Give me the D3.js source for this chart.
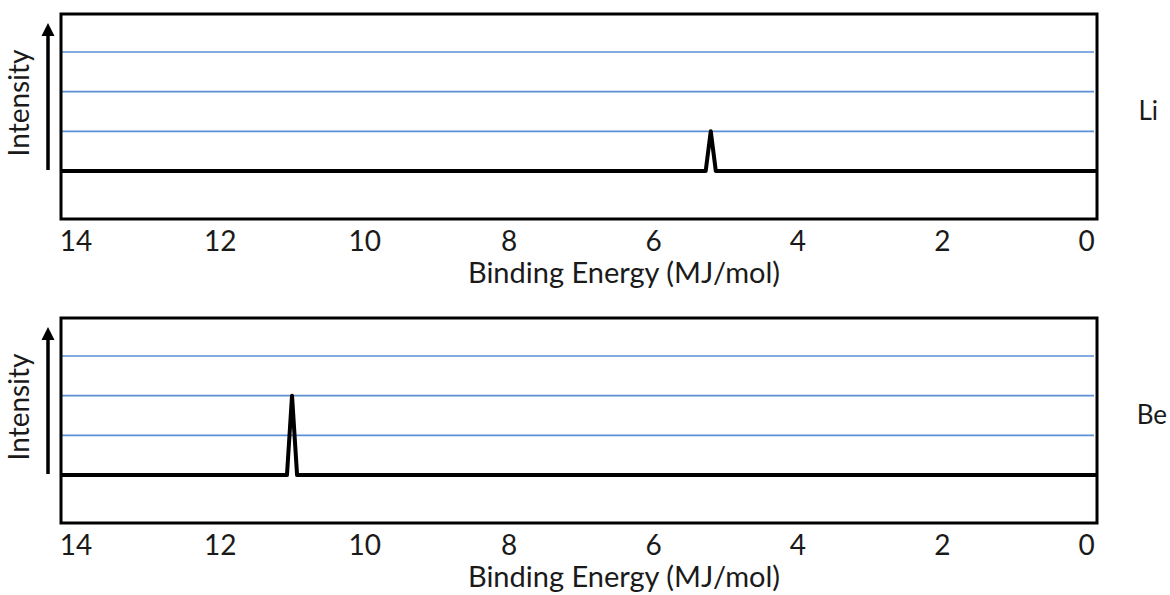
<!DOCTYPE html>
<html>
<head>
<meta charset="utf-8">
<script src="https://cdn.jsdelivr.net/npm/d3@7"></script>
<style>
  body { margin: 0; background: #fff; }
  text { font-family: Lato, "Noto Sans", sans-serif; fill: #1a1a1a; }
</style>
</head>
<body>
<svg id="chart" width="1170" height="595"></svg>
<script>
// ===== DADOS =====
const tickValues = [14, 12, 10, 8, 6, 4, 2, 0];
const gridLevels = [1, 2, 3];
const elementNames = ["Li", "Be"];
const liEnergy = [14.2, 5.27, 5.2, 5.13, -0.15];
const liIntensity = [0, 0, 1, 0, 0];
const beEnergy = [14.2, 11.07, 11.0, 10.93, -0.15];
const beIntensity = [0, 0, 2, 0, 0];

const spectra = [
  { name: elementNames[0], energy: liEnergy, intensity: liIntensity },
  { name: elementNames[1], energy: beEnergy, intensity: beIntensity }
];

// ===== LAYOUT =====
const panelLeft = 61;
const panelWidth = 1036;
const panelHeight = 205;
const panelTops = [14, 318];
const nameRight = [1158, 1167];

const svg = d3.select("#chart");

const x = d3.scaleLinear().domain([14.2, -0.15]).range([0, panelWidth]);
// linha de base 157px abaixo do topo, nível 3 a 38px
const y = d3.scaleLinear().domain([0, 3]).range([157, 38]);

const line = d3
  .line()
  .x((d) => x(d[0]))
  .y((d) => y(d[1]));

spectra.forEach((s, i) => {
  const g = svg
    .append("g")
    .attr("transform", `translate(${panelLeft},${panelTops[i]})`);

  // linhas de grade
  g.selectAll(".grid")
    .data(gridLevels)
    .join("line")
    .attr("x1", 0)
    .attr("x2", panelWidth - 3)
    .attr("y1", (d) => y(d))
    .attr("y2", (d) => y(d))
    .attr("stroke", "#5b8fd6")
    .attr("stroke-width", 1.6);

  // espectro
  const pts = s.energy.map((e, k) => [e, s.intensity[k]]);
  g.append("path")
    .datum(pts)
    .attr("d", line)
    .attr("fill", "none")
    .attr("stroke", "#000")
    .attr("stroke-width", 4)
    .attr("stroke-linejoin", "round");

  // caixa
  g.append("rect")
    .attr("width", panelWidth)
    .attr("height", panelHeight)
    .attr("fill", "none")
    .attr("stroke", "#000")
    .attr("stroke-width", 3);

  // eixo x
  const axis = g
    .append("g")
    .attr("transform", `translate(0,${panelHeight})`)
    .call(d3.axisBottom(x).tickValues(tickValues).tickSize(0).tickPadding(12));
  axis.select(".domain").remove();
  axis
    .selectAll("text")
    .attr("font-family", "Lato, 'Noto Sans', sans-serif")
    .attr("font-size", 28)
    .attr("fill", "#1a1a1a");

  g.append("text")
    .attr("x", 563)
    .attr("y", panelHeight + 64)
    .attr("text-anchor", "middle")
    .attr("font-size", 29)
    .text("Binding Energy (MJ/mol)");

  // seta de intensidade
  g.append("line")
    .attr("x1", -13)
    .attr("x2", -13)
    .attr("y1", y(0) - 1)
    .attr("y2", 20)
    .attr("stroke", "#000")
    .attr("stroke-width", 3.5);
  g.append("path")
    .attr("d", "M-13,9 L-19.5,22 L-6.5,22 Z")
    .attr("fill", "#000");

  g.append("text")
    .attr("transform", `translate(-32,89) rotate(-90)`)
    .attr("text-anchor", "middle")
    .attr("font-size", 28)
    .text("Intensity");

  // nome do elemento
  svg
    .append("text")
    .attr("x", nameRight[i])
    .attr("y", panelTops[i] + 106)
    .attr("text-anchor", "end")
    .attr("font-size", 26)
    .text(s.name);
});
</script>
</body>
</html>
